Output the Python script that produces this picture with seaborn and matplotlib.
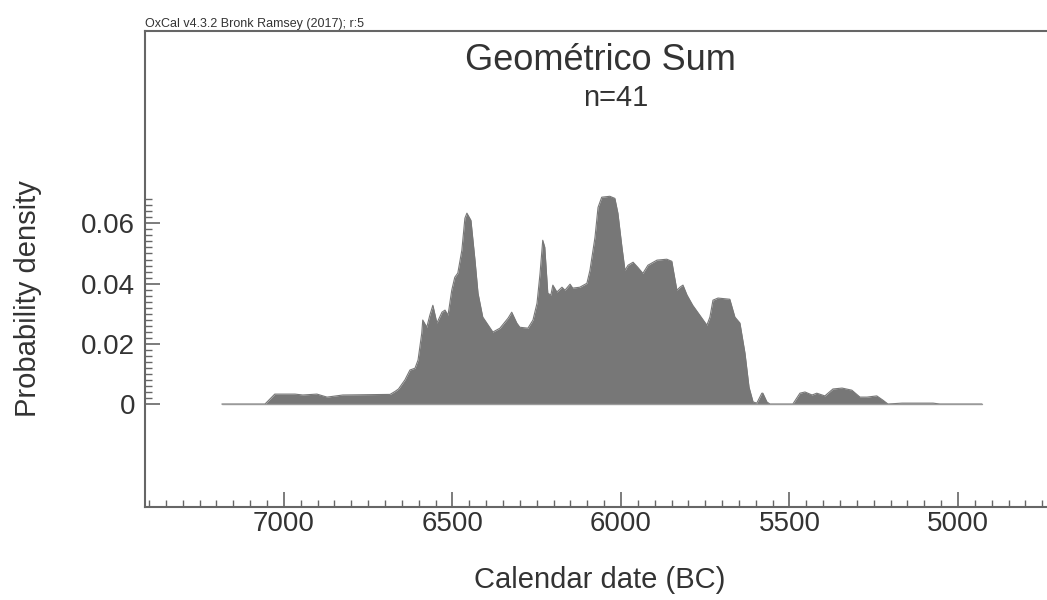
import numpy as np
import pandas as pd
import matplotlib
matplotlib.use("Agg")
import matplotlib.pyplot as plt
from matplotlib.ticker import FixedLocator
import seaborn as sns

# ---- data ----
years = [7184, 7056, 7027, 6967, 6944, 6902, 6872, 6825, 6685, 6670, 6660,
         6641, 6626, 6611, 6602, 6591, 6588, 6576, 6567, 6558, 6546, 6531,
         6522, 6513, 6502, 6493, 6484, 6472, 6463, 6457, 6445, 6433, 6424,
         6410, 6398, 6380, 6359, 6335, 6324, 6309, 6300, 6276, 6261, 6249,
         6240, 6232, 6226, 6217, 6208, 6202, 6190, 6175, 6166, 6151, 6143,
         6122, 6101, 6092, 6077, 6068, 6057, 6033, 6018, 6009, 5997, 5988,
         5979, 5964, 5950, 5935, 5920, 5893, 5864, 5849, 5846, 5834, 5825,
         5816, 5804, 5787, 5766, 5745, 5736, 5727, 5712, 5677, 5662, 5647,
         5632, 5620, 5608, 5597, 5582, 5579, 5567, 5558, 5490, 5469, 5454,
         5433, 5419, 5395, 5371, 5344, 5315, 5291, 5270, 5241, 5223, 5208,
         5166, 5074, 5054, 4929]
density = [0, 0, 0.0033, 0.0033, 0.0030, 0.0033, 0.0023, 0.0030, 0.0032, 0.0042, 0.0050,
           0.0080, 0.0113, 0.0119, 0.0146, 0.0235, 0.0279, 0.0255, 0.0295, 0.0328, 0.0269, 0.0305,
           0.0312, 0.0295, 0.0378, 0.0421, 0.0435, 0.0511, 0.0617, 0.0634, 0.0610, 0.0478, 0.0368,
           0.0289, 0.0269, 0.0239, 0.0252, 0.0285, 0.0305, 0.0269, 0.0255, 0.0252, 0.0279, 0.0335,
           0.0434, 0.0544, 0.0521, 0.0368, 0.0362, 0.0395, 0.0372, 0.0388, 0.0378, 0.0398, 0.0385,
           0.0388, 0.0401, 0.0444, 0.0554, 0.0653, 0.0687, 0.0690, 0.0683, 0.0634, 0.0521, 0.0444,
           0.0461, 0.0471, 0.0454, 0.0434, 0.0461, 0.0478, 0.0481, 0.0474, 0.0454, 0.0378, 0.0388,
           0.0395, 0.0362, 0.0328, 0.0295, 0.0262, 0.0289, 0.0345, 0.0352, 0.0348, 0.0289, 0.0269,
           0.0169, 0.0056, 0.0007, 0.0003, 0.0036, 0.0036, 0.0007, 0, 0, 0.0036, 0.0040,
           0.0030, 0.0036, 0.0027, 0.0050, 0.0053, 0.0046, 0.0023, 0.0023, 0.0027, 0.0013, 0,
           0.0003, 0.0003, 0, 0]

x_major = [7000, 6500, 6000, 5500, 5000]
x_major_labels = ["7000", "6500", "6000", "5500", "5000"]
y_major = [0, 0.02, 0.04, 0.06]
y_major_labels = ["0", "0.02", "0.04", "0.06"]

title = "Geométrico Sum"
subtitle = "n=41"
credit = "OxCal v4.3.2 Bronk Ramsey (2017); r:5"
xlabel = "Calendar date (BC)"
ylabel = "Probability density"

df = pd.DataFrame({"year": years, "density": density})

# ---- style ----
sns.set_style("white")
plt.rcParams["font.family"] = ["Liberation Sans", "DejaVu Sans"]
text_col = "#333333"
fill_col = "#777777"
spine_col = "#666666"

fig = plt.figure(figsize=(10.47, 6.0), dpi=100)
ax = fig.add_axes([145 / 1047, 93 / 600, 902 / 1047, 476 / 600])

ax.fill_between(df["year"], 0, df["density"], color=fill_col, linewidth=0)
sns.lineplot(data=df, x="year", y="density", ax=ax, color=fill_col,
             linewidth=0.8, sort=False, estimator=None)
base = pd.DataFrame({"year": [years[0], years[-1]], "density": [0, 0]})
sns.lineplot(data=base, x="year", y="density", ax=ax, color="#9a9a9a",
             linewidth=1.0, sort=False, estimator=None)

ax.set_xlim(7412, 4736)
ax.set_ylim(-0.0342, 0.1239)

for s in ["left", "bottom", "top"]:
    ax.spines[s].set_color(spine_col)
    ax.spines[s].set_linewidth(1.5)
    ax.spines[s].set_visible(True)
ax.spines["right"].set_visible(False)

ax.xaxis.set_major_locator(FixedLocator(x_major))
ax.set_xticklabels(x_major_labels)
minor_x = [v for v in range(4750, 7401, 50) if v not in x_major]
ax.xaxis.set_minor_locator(FixedLocator(minor_x))

ax.yaxis.set_major_locator(FixedLocator(y_major))
ax.set_yticklabels(y_major_labels)
minor_y = [round(v * 0.002, 4) for v in range(0, 35) if (v % 10) != 0]
ax.yaxis.set_minor_locator(FixedLocator(minor_y))

ax.tick_params(axis="x", which="major", direction="in", length=11, width=1.2,
               color=spine_col, labelsize=20, labelcolor=text_col, pad=3,
               bottom=True, top=False)
ax.tick_params(axis="x", which="minor", direction="in", length=5, width=1.0,
               color=spine_col, bottom=True, top=False)
ax.tick_params(axis="y", which="major", direction="in", length=11, width=1.2,
               color=spine_col, labelsize=20, labelcolor=text_col, pad=7,
               left=True, right=False)
ax.tick_params(axis="y", which="minor", direction="in", length=5, width=1.0,
               color=spine_col, left=True, right=False)

ax.set_xlabel(xlabel, fontsize=21, color=text_col)
ax.set_ylabel(ylabel, fontsize=21, color=text_col)
ax.xaxis.set_label_coords(0.504, -0.124)
ax.yaxis.set_label_coords(-0.114, 0.437)

fig.text(600 / 1047, 1 - 60 / 600, title, fontsize=26, color=text_col,
         ha="center", va="center")
fig.text(616 / 1047, 1 - 98 / 600, subtitle, fontsize=21, color=text_col,
         ha="center", va="center")
fig.text(145 / 1047, 1 - 27 / 600, credit, fontsize=9, color=text_col,
         ha="left", va="baseline")

fig.savefig("out.png", dpi=100)
